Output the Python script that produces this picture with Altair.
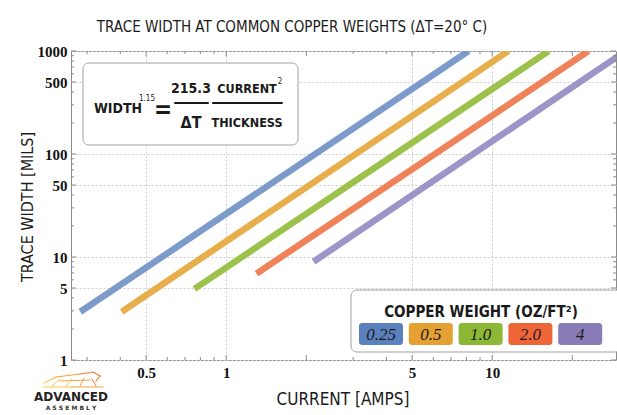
import altair as alt
import pandas as pd

# ---- data ----
weights = ["0.25", "0.5", "1.0", "2.0", "4"]
start_current = [0.283, 0.405, 0.76, 1.30, 2.13]
start_width = [2.94, 2.94, 4.9, 6.9, 9.0]
end_current = [8.15, 11.5, 16.3, 23.0, 31.8]
end_width = [1000, 1000, 1000, 1000, 1000]

line_colors = ["#7c9bcb", "#e8ae4b", "#9dc24c", "#f0825a", "#9d94c7"]
swatch_colors = ["#5a80bd", "#e4a132", "#8cb836", "#ee6638", "#8a7cb9"]

x_labels = [0.5, 1, 5, 10]
y_labels = [1, 5, 10, 50, 100, 500, 1000]
x_ticks = [0.3, 0.4, 0.5, 0.6, 0.7, 0.8, 0.9, 1, 2, 3, 4, 5, 6, 7, 8, 9, 10, 20]
y_ticks = [1, 2, 3, 4, 5, 6, 7, 8, 9, 10, 20, 30, 40, 50, 60, 70, 80, 90,
           100, 200, 300, 400, 500, 600, 700, 800, 900, 1000]

W, H = 545, 309
xs = alt.Scale(type="log", domain=[0.261, 29.2], nice=False)
ys = alt.Scale(type="log", domain=[1, 1000], nice=False)

rows = []
for w, sc, sw, ec, ew in zip(weights, start_current, start_width, end_current, end_width):
    rows.append({"weight": w, "current": sc, "width": sw})
    rows.append({"weight": w, "current": ec, "width": ew})
lines_df = pd.DataFrame(rows)

LABEL_FONT = "Liberation Serif"
THIN = "DejaVu Sans Condensed, Roboto Condensed, Liberation Sans Narrow, Roboto, sans-serif"
EQ = THIN

x_axis = alt.Axis(
    values=x_labels, format="~g", grid=True, gridDash=[2, 2], gridColor="#cdcdcd",
    ticks=False, domain=False, title=None, labelFont=LABEL_FONT, labelFontWeight="bold",
    labelFontSize=15, labelColor="#111", labelPadding=5, labelFlush=False)
y_axis = alt.Axis(
    values=y_labels, format="~g", grid=True, gridDash=[2, 2], gridColor="#cdcdcd",
    ticks=False, domain=False, title=None, labelFont=LABEL_FONT, labelFontWeight="bold",
    labelFontSize=15, labelColor="#111", labelPadding=4, labelFlush=False)

lines = alt.Chart(lines_df).mark_line(strokeWidth=6.5, clip=True, strokeCap="butt").encode(
    x=alt.X("current:Q", scale=xs, axis=x_axis),
    y=alt.Y("width:Q", scale=ys, axis=y_axis),
    color=alt.Color("weight:N", scale=alt.Scale(domain=weights, range=line_colors), legend=None),
    detail="weight:N",
)

# ---- inward tick marks on all four sides ----
xt = pd.DataFrame({"v": x_ticks})
xt["major"] = xt["v"].isin(x_labels + [2, 20])
yt = pd.DataFrame({"v": y_ticks})
yt["major"] = yt["v"].isin(y_labels)

tick_layers = []
TC = "#8a8a8a"
for major, ln in [(True, 5), (False, 3)]:
    xd = xt[xt["major"] == major]
    yd = yt[yt["major"] == major]
    tick_layers += [
        alt.Chart(xd).mark_rule(color=TC).encode(x=alt.X("v:Q", scale=xs, axis=x_axis), y=alt.value(H), y2=alt.value(H - ln)),
        alt.Chart(xd).mark_rule(color=TC).encode(x=alt.X("v:Q", scale=xs, axis=x_axis), y=alt.value(0), y2=alt.value(ln)),
        alt.Chart(yd).mark_rule(color=TC).encode(y=alt.Y("v:Q", scale=ys, axis=y_axis), x=alt.value(0), x2=alt.value(ln)),
        alt.Chart(yd).mark_rule(color=TC).encode(y=alt.Y("v:Q", scale=ys, axis=y_axis), x=alt.value(W), x2=alt.value(W - ln)),
    ]

one = pd.DataFrame({"a": [0]})


def txt(s, x, y, size, font=THIN, weight="normal", color="#1a1a1a", angle=0, style="normal", align="center"):
    kw = dict(text=s, fontSize=size, font=font, fontWeight=weight, color=color,
              align=align, baseline="middle", fontStyle=style)
    if angle:
        kw["angle"] = angle
    return alt.Chart(one).mark_text(**kw).encode(x=alt.value(x), y=alt.value(y))


def box(x1, x2, y1, y2, fill, stroke=None, r=6):
    kw = dict(fill=fill, cornerRadius=r)
    if stroke:
        kw.update(stroke=stroke, strokeWidth=1)
    return alt.Chart(one).mark_rect(**kw).encode(
        x=alt.value(x1), x2=alt.value(x2), y=alt.value(y1), y2=alt.value(y2))


def seg(x1, y1, x2, y2, color="#1a1a1a", w=2):
    return alt.Chart(one).mark_rule(color=color, strokeWidth=w, strokeCap="round").encode(
        x=alt.value(x1), x2=alt.value(x2), y=alt.value(y1), y2=alt.value(y2))


annot = [
    # equation box
    box(12, 227, 12, 94, "white", "#a0a0a0"),
    txt("WIDTH", 47, 58, 14, EQ, "bold"),
    txt("1.15", 76, 48, 8, EQ),
    txt("=", 92, 60, 24, EQ, "bold"),
    txt("215.3", 120, 38, 14, EQ, "bold"),
    seg(104, 52, 137, 52),
    txt("ΔT", 120, 72, 16, EQ, "bold"),
    txt("CURRENT", 176, 38, 12.5, EQ, "bold"),
    txt("2", 209, 31, 8, EQ),
    seg(142, 52, 211, 52),
    txt("THICKNESS", 176, 72, 12.5, EQ, "bold"),
    # legend box
    box(280, 550, 239, 301, "white", "#a0a0a0"),
    txt("COPPER WEIGHT  (OZ/FT²)", 410, 261, 15, EQ, "bold"),
    # titles
    txt("TRACE WIDTH AT COMMON COPPER WEIGHTS (ΔT=20° C)", 221, -24, 15, THIN),
    txt("TRACE WIDTH [MILS]", -43, 156, 16, THIN, angle=270),
    txt("CURRENT [AMPS]", 272, 349, 17, THIN),
    # logo text
    txt("ADVANCED", 0, 346, 12, "DejaVu Sans", "bold", "#222"),
    txt("A S S E M B L Y", 0, 357, 6, "DejaVu Sans", "bold", "#333"),
]

# simplified logo outline (decoration, pixel offsets from plot origin)
ox, oy = -71, -51
Y1, O1, O2 = "#f7c64c", "#f4a23c", "#ee7b32"
logo = [
    seg(43 + ox, 387 + oy, 72 + ox, 387 + oy, Y1, 1.2),
    seg(72 + ox, 387 + oy, 103 + ox, 387 + oy, O1, 1.2),
    seg(44 + ox, 383 + oy, 56 + ox, 377 + oy, Y1, 1.2),
    seg(56 + ox, 377 + oy, 80 + ox, 374 + oy, O1, 1.2),
    seg(80 + ox, 374 + oy, 93 + ox, 372 + oy, O2, 1.2),
    seg(93 + ox, 372 + oy, 100 + ox, 376 + oy, O2, 1.2),
    seg(100 + ox, 376 + oy, 96 + ox, 381 + oy, O2, 1.2),
    seg(60 + ox, 381 + oy, 90 + ox, 380 + oy, O1, 1.0),
    seg(60 + ox, 379 + oy, 52 + ox, 386 + oy, Y1, 1.0),
    seg(72 + ox, 379 + oy, 66 + ox, 386 + oy, Y1, 1.0),
    seg(84 + ox, 378 + oy, 80 + ox, 386 + oy, O1, 1.0),
    seg(92 + ox, 379 + oy, 96 + ox, 386 + oy, O2, 1.0),
]

for i, (w, c) in enumerate(zip(weights, swatch_colors)):
    x0 = 288 + i * 49.8
    annot.append(box(x0, x0 + 44, 272, 294, c, r=3))
    annot.append(txt(w, x0 + 22, 283.5, 17, LABEL_FONT, "normal", "#1a1a1a", style="italic"))

chart = alt.layer(lines, *tick_layers, *annot, *logo).properties(
    width=W, height=H,
    autosize="none",
    padding={"left": 71, "top": 51, "right": 1, "bottom": 55},
).configure_view(stroke="#8a8a8a", strokeWidth=1)

chart.save("out.html", embed_options={"renderer": "svg", "actions": False})
